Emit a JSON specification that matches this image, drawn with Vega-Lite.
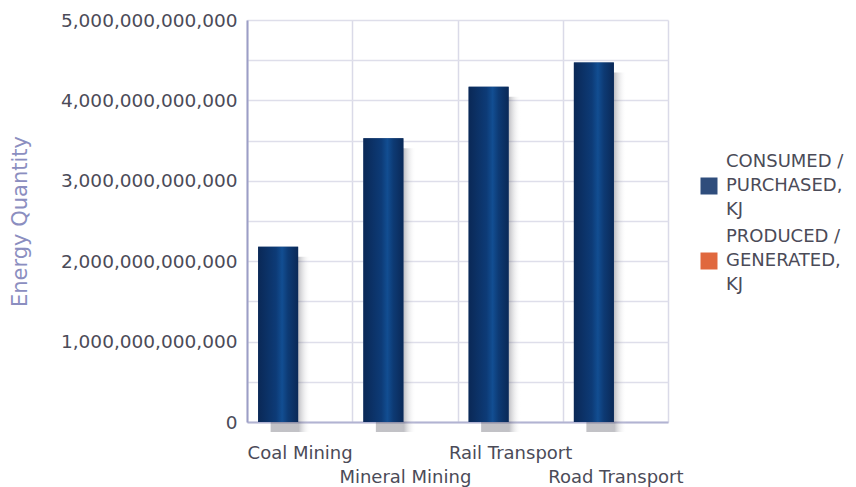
{
  "$schema": "https://vega.github.io/schema/vega-lite/v6.json",
  "width": 421,
  "height": 402,
  "autosize": {"type": "none"},
  "padding": {"left": 247, "top": 20, "right": 188, "bottom": 65},
  "background": "white",
  "config": {
    "font": "DejaVu Sans",
    "view": {"stroke": null}
  },
  "data": {
    "values": [
      {"activity": "Coal Mining", "series": "CONSUMED / PURCHASED, KJ", "kj": 2180000000000},
      {"activity": "Coal Mining", "series": "PRODUCED / GENERATED, KJ", "kj": 0},
      {"activity": "Mineral Mining", "series": "CONSUMED / PURCHASED, KJ", "kj": 3530000000000},
      {"activity": "Mineral Mining", "series": "PRODUCED / GENERATED, KJ", "kj": 0},
      {"activity": "Rail Transport", "series": "CONSUMED / PURCHASED, KJ", "kj": 4170000000000},
      {"activity": "Rail Transport", "series": "PRODUCED / GENERATED, KJ", "kj": 0},
      {"activity": "Road Transport", "series": "CONSUMED / PURCHASED, KJ", "kj": 4470000000000},
      {"activity": "Road Transport", "series": "PRODUCED / GENERATED, KJ", "kj": 0}
    ]
  },
  "encoding": {
    "x": {
      "field": "activity",
      "type": "nominal",
      "sort": null,
      "scale": {"paddingInner": 0, "paddingOuter": 0},
      "axis": {
        "title": null,
        "labelAngle": 0,
        "labelFontSize": 18,
        "labelColor": "#4b4b58",
        "labelPadding": 22,
        "labelLineHeight": 24,
        "labelBaseline": "top",
        "labelExpr": "indexof(['Mineral Mining', 'Road Transport'], datum.value) >= 0 ? ['', datum.label] : datum.label",
        "labelLimit": 300,
        "ticks": false,
        "tickBand": "extent",
        "grid": true,
        "gridColor": "#dadae8",
        "gridWidth": 1.5,
        "domainColor": "#b2b3d2",
        "domainWidth": 2
      }
    },
    "y": {
      "field": "kj",
      "type": "quantitative",
      "scale": {"domain": [0, 5000000000000], "nice": false},
      "axis": {
        "values": [0, 500000000000, 1000000000000, 1500000000000, 2000000000000, 2500000000000, 3000000000000, 3500000000000, 4000000000000, 4500000000000, 5000000000000],
        "format": ",d",
        "labelExpr": "datum.value % 1000000000000 === 0 ? datum.label : ''",
        "title": "Energy Quantity",
        "titleFontSize": 21,
        "titleFontWeight": "normal",
        "titleColor": "#8b8ec0",
        "titlePadding": 30,
        "labelFontSize": 18.5,
        "labelColor": "#4b4b58",
        "labelPadding": 10,
        "ticks": false,
        "grid": true,
        "gridColor": "#dedeea",
        "gridWidth": 1.5,
        "domainColor": "#9c9ec6",
        "domainWidth": 2
      }
    }
  },
  "layer": [
    {
      "transform": [{"filter": "datum.kj > 0"}],
      "mark": {
        "type": "bar",
        "width": {"band": 0.38},
        "xOffset": -9,
        "yOffset": 10,
        "y2Offset": 3,
        "fill": {
          "gradient": "linear",
          "x1": 0, "y1": 0, "x2": 1, "y2": 0,
          "stops": [
            {"offset": 0, "color": "rgba(80,80,92,0.35)"},
            {"offset": 0.7, "color": "rgba(80,80,92,0.35)"},
            {"offset": 1, "color": "rgba(255,255,255,0)"}
          ]
        }
      }
    },
    {
      "mark": {"type": "bar", "width": {"band": 0.38}, "xOffset": -21.5},
      "encoding": {
        "color": {
          "field": "series",
          "type": "nominal",
          "sort": null,
          "scale": {
            "domain": ["CONSUMED / PURCHASED, KJ", "PRODUCED / GENERATED, KJ"],
            "range": ["#2f4d7c", "#e0683e"]
          },
          "legend": {
            "title": null,
            "orient": "none",
            "legendX": 453,
            "legendY": 157,
            "padding": 0,
            "symbolType": "square",
            "symbolSize": 289,
            "symbolStrokeWidth": 0,
            "labelFontSize": 18,
            "labelColor": "#4b4b58",
            "labelOffset": 8,
            "labelLimit": 200,
            "rowPadding": 9,
            "labelExpr": "split(replace(replace(datum.label, '/ ', '/|'), ', ', ',|'), '|')",
            "encode": {
              "labels": {
                "update": {
                  "lineHeight": {"value": 24},
                  "dy": {"value": -24}
                }
              }
            }
          }
        }
      }
    },
    {
      "transform": [{"filter": "datum.kj > 0"}],
      "mark": {
        "type": "bar",
        "width": {"band": 0.38},
        "xOffset": -21.5,
        "fill": {
          "gradient": "linear",
          "x1": 0, "y1": 0, "x2": 1, "y2": 0,
          "stops": [
            {"offset": 0, "color": "#0a2856"},
            {"offset": 0.45, "color": "#0d3b77"},
            {"offset": 0.6, "color": "#124e92"},
            {"offset": 0.75, "color": "#0d3a74"},
            {"offset": 1, "color": "#0a2957"}
          ]
        }
      }
    }
  ]
}
